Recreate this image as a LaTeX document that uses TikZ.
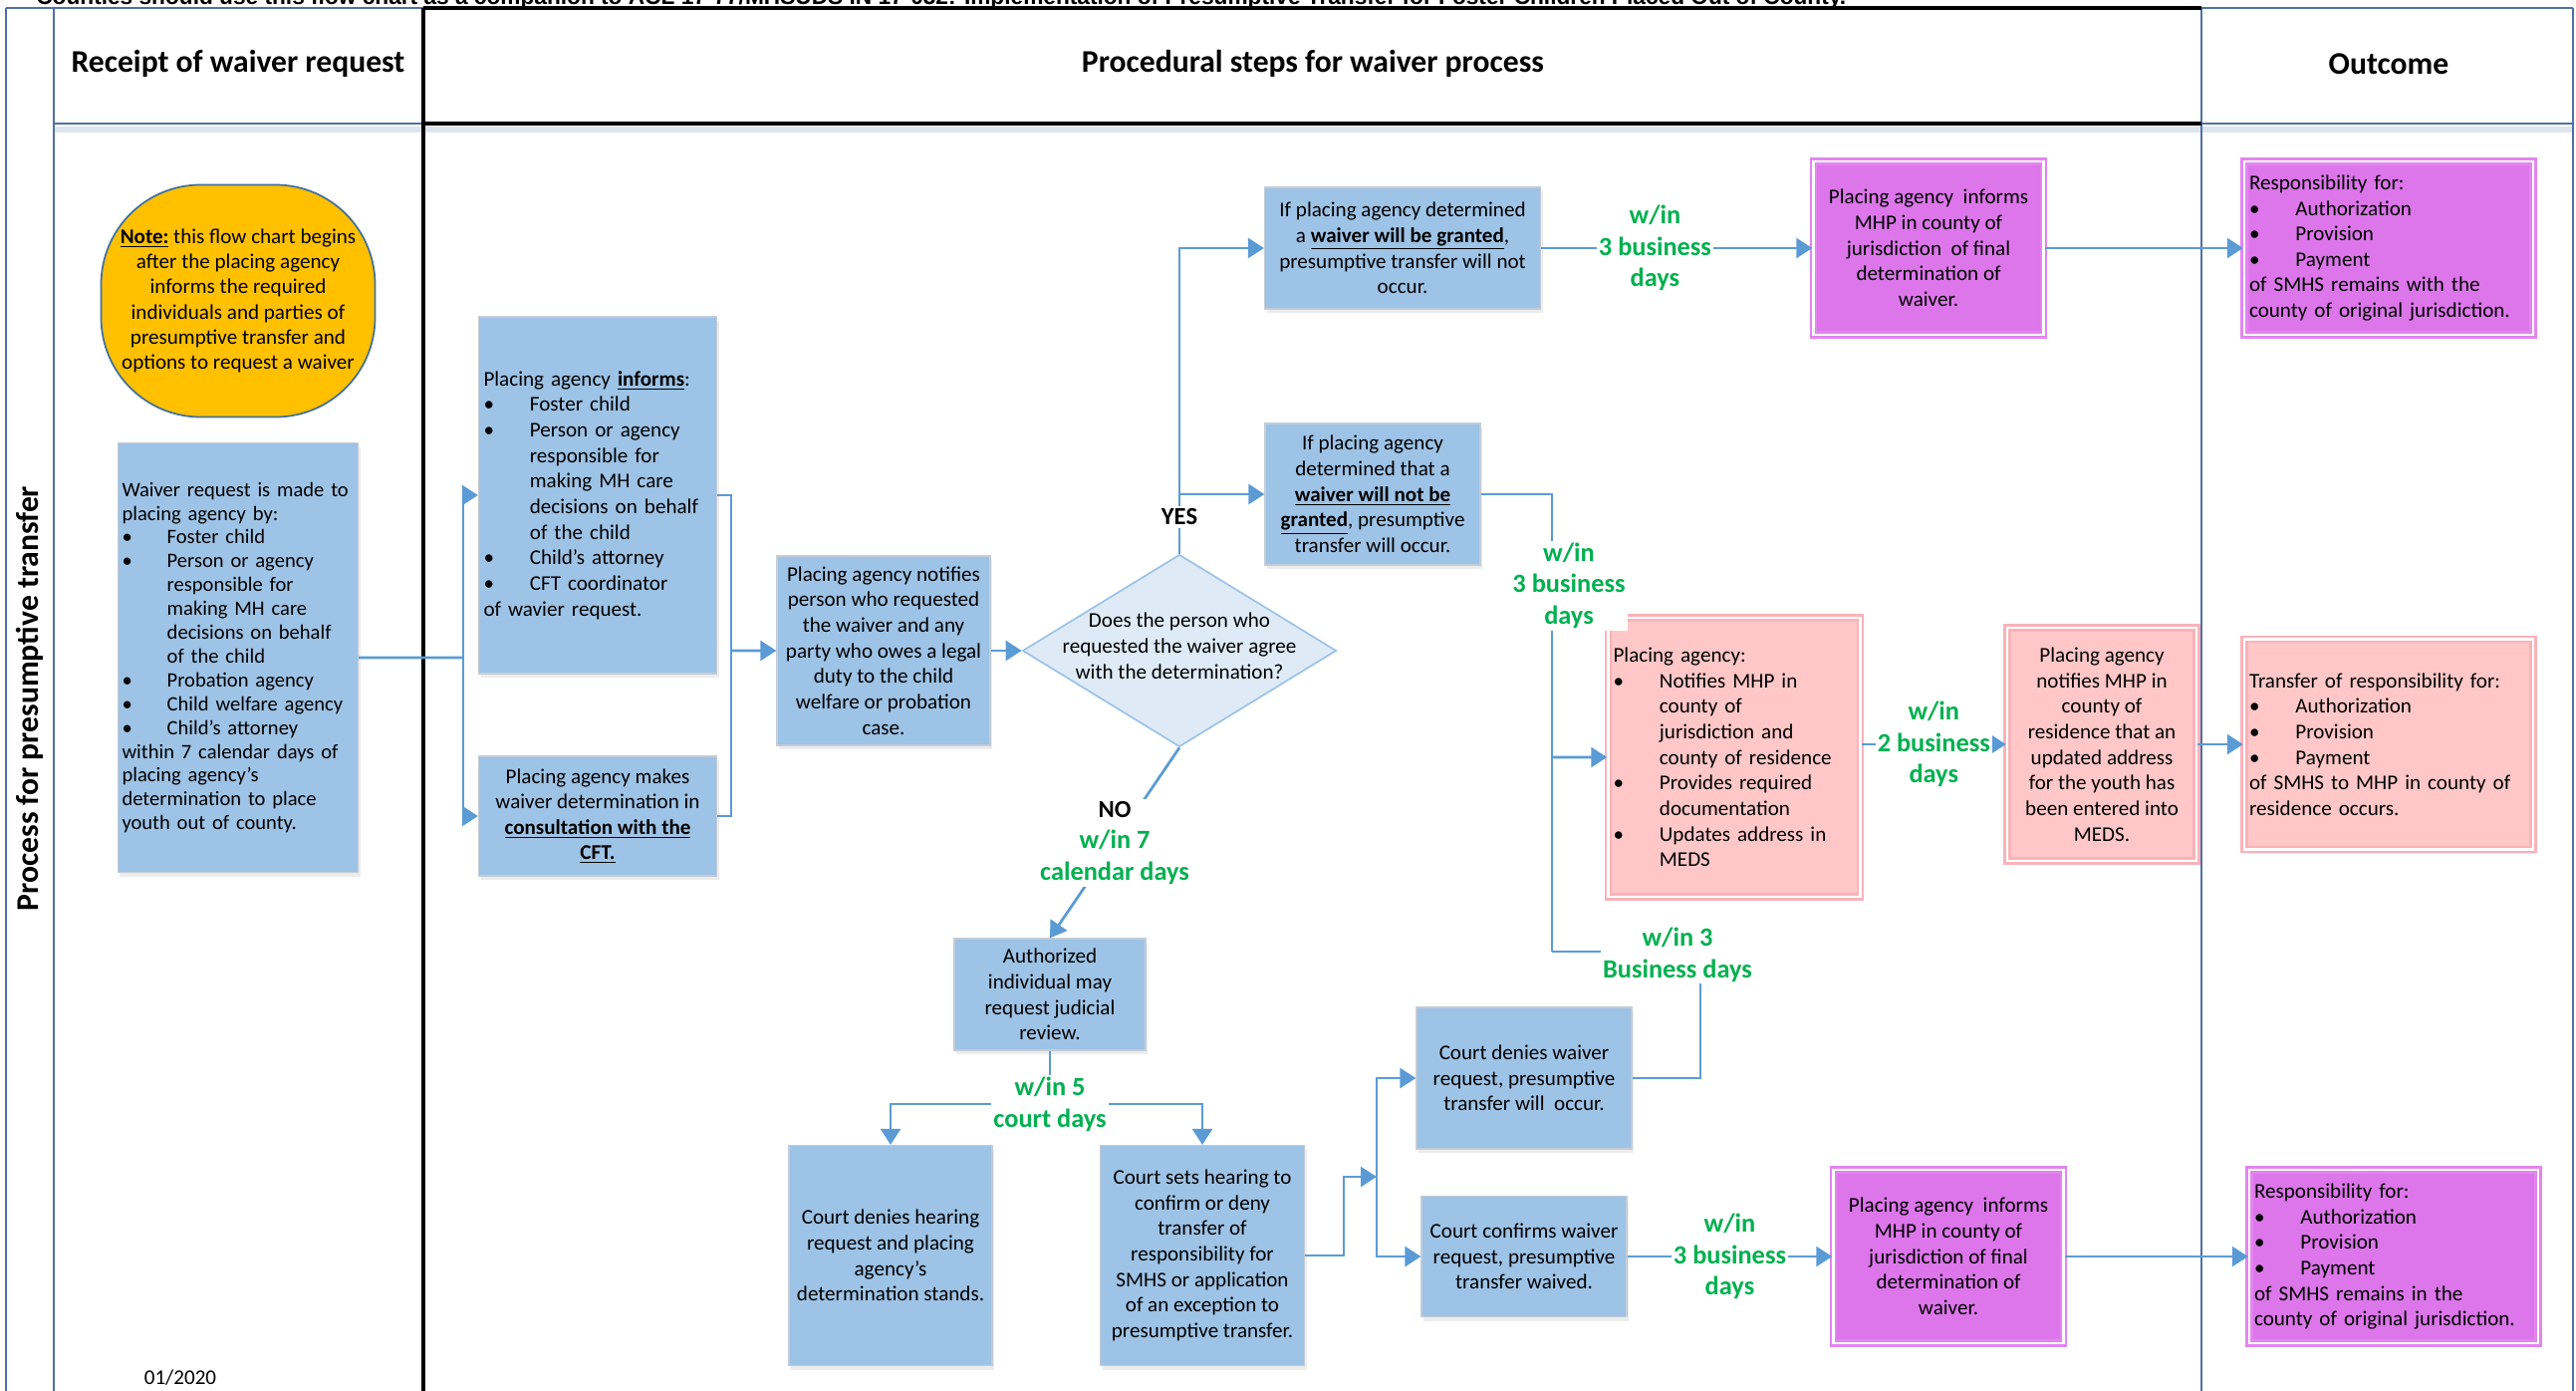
\documentclass[tikz,border=0pt]{standalone}
\usepackage{fontspec}
\setmainfont{Carlito}
\newfontfamily\arialfont{Liberation Sans}
\usetikzlibrary{positioning, arrows.meta, shapes.geometric, shadows}

\definecolor{boxblue}{HTML}{9DC3E6}
\definecolor{boxedge}{HTML}{C4CCD6}
\definecolor{lineblue}{HTML}{5B9BD5}
\definecolor{notefill}{HTML}{FFC000}
\definecolor{noteedge}{HTML}{41719C}
\definecolor{diafill}{HTML}{DEEBF7}
\definecolor{diaedge}{HTML}{9DC3E6}
\definecolor{magfill}{HTML}{DC76EA}
\definecolor{magedge}{HTML}{E385EF}
\definecolor{pinkfill}{HTML}{FFC7C7}
\definecolor{pinkedge}{HTML}{F9B3B9}
\definecolor{wgreen}{HTML}{00B050}
\definecolor{frameblue}{HTML}{4F71A3}

\newcommand{\bul}{\makebox[2.2em][l]{\textbullet}}
\newcommand{\ind}{\hspace*{2.2em}}

\begin{document}
\begin{tikzpicture}
    [
        x=0.2mm, y=-0.2mm, on grid,
        blue_box/.style={rectangle, draw=boxedge, fill=boxblue, line width=0.25mm, inner xsep=1mm, inner ysep=0.8mm, align=center, font=\fontsize{12}{14.6}\selectfont, drop shadow={shadow xshift=0.4mm, shadow yshift=-0.8mm, opacity=0.15}},
        left_box/.style={blue_box, align=left},
        mag_box/.style={rectangle, draw=magedge, double=white, double distance=0.5mm, line width=0.5mm, fill=magfill, inner xsep=1mm, align=center, font=\fontsize{12}{14.6}\selectfont, drop shadow={shadow xshift=0.4mm, shadow yshift=-0.8mm, opacity=0.15}},
        mag_left/.style={mag_box, align=left},
        pink_box/.style={mag_box, draw=pinkedge, fill=pinkfill},
        pink_left/.style={pink_box, align=left},
        note_node/.style={rectangle, rounded corners=20mm, draw=noteedge, fill=notefill, line width=0.35mm, minimum width=55mm, minimum height=46.6mm, align=center, font=\fontsize{12}{14.4}\selectfont},
        dec_node/.style={diamond, draw=diaedge, fill=diafill, line width=0.35mm, inner sep=0pt, minimum width=63mm, minimum height=38.6mm, font=\fontsize{12}{14.6}\selectfont},
        green_lbl/.style={font=\fontsize{15}{18}\selectfont\bfseries, text=wgreen, fill=white, inner sep=0.4mm, align=center},
        yes_lbl/.style={font=\fontsize{14}{17}\selectfont\bfseries, fill=white, inner sep=0.5mm},
        head_lbl/.style={font=\fontsize{18}{22}\selectfont\bfseries},
        line_conn/.style={draw=lineblue, line width=0.55mm},
        arrow_conn/.style={line_conn, -{Triangle[length=3.2mm, width=4mm]}},
        frame_blue/.style={draw=frameblue, line width=0.5mm},
        frame_black/.style={draw=black, line width=0.8mm},
    ]
    \useasboundingbox (0,0) rectangle (2586,1396);

    \node[font=\arialfont\fontsize{12.9}{15}\selectfont\bfseries, anchor=base west, inner sep=0pt] (topnote) at (36,4) {Counties should use this flow chart as a companion to ACL 17-77/MHSUDS IN 17-032: Implementation of Presumptive Transfer for Foster Children Placed Out of County.};

    % swimlane frame
    \draw[draw=frameblue!18, line width=1.2mm] (54,130) -- (2583,130);
    \draw[frame_blue] (6,8) -- (6,1396);
    \draw[frame_blue] (54,8) -- (54,1396);
    \draw[frame_blue] (2210,8) -- (2210,1396);
    \draw[frame_blue] (2583,8) -- (2583,1396);
    \draw[frame_blue] (6,8) -- (425,8);
    \draw[frame_blue] (2210,8) -- (2583,8);
    \draw[frame_blue] (54,124) -- (425,124);
    \draw[frame_blue] (2210,124) -- (2583,124);
    \draw[frame_black] (425,8) -- (2210,8);
    \draw[frame_black] (425,124) -- (2210,124);
    \draw[frame_black] (425,8) -- (425,1396);

    \node[head_lbl] (h_receipt) at (239,64) {Receipt of waiver request};
    \node[head_lbl] (h_steps) at (1318,64) {Procedural steps for waiver process};
    \node[head_lbl] (h_outcome) at (2398,64) {Outcome};
    \node[head_lbl, rotate=90] (h_side) at (30,701) {Process for presumptive transfer};
    \node[font=\fontsize{12}{14}\selectfont] (date) at (181,1383) {01/2020};

    \node[note_node] (note) at (239,302) {\underline{\textbf{Note:}} this flow chart begins\\after the placing agency\\informs the required\\individuals and parties of\\presumptive transfer and\\options to request a waiver};
    \node[left_box, inner xsep=0.8mm, text width=46.6mm, minimum height=86.2mm, font=\fontsize{11.7}{13.6}\selectfont] (req) [below=71.6mm of note] {Waiver request is made to\\placing agency by:\\\bul Foster child\\\bul Person or agency\\\ind responsible for\\\ind making MH care\\\ind decisions on behalf\\\ind of the child\\\bul Probation agency\\\bul Child welfare agency\\\bul Child’s attorney\\within 7 calendar days of\\placing agency’s\\determination to place\\youth out of county.};

    \node[left_box, text width=45.8mm, minimum height=71.6mm] (inf) [above right=32.6mm and 72.2mm of req] {Placing agency \underline{\textbf{informs}}:\\\bul Foster child\\\bul Person or agency\\\ind responsible for\\\ind making MH care\\\ind decisions on behalf\\\ind of the child\\\bul Child’s attorney\\\bul CFT coordinator\\of wavier request.};
    \node[blue_box, minimum width=47.8mm, minimum height=24mm] (mak) [below=64.4mm of inf] {Placing agency makes\\waiver determination in\\\underline{\textbf{consultation with the}}\\\underline{\textbf{CFT.}}};
    \node[blue_box, minimum width=42.8mm, minimum height=38mm] (ntf) [below right=31.2mm and 57.4mm of inf] {Placing agency notifies\\person who requested\\the waiver and any\\party who owes a legal\\duty to the child\\welfare or probation\\case.};
    \node[dec_node] (dec) [right=59.4mm of ntf] {\raisebox{-1mm}{\smash{\makebox[0pt]{\begin{tabular}{@{}c@{}}Does the person who\\requested the waiver agree\\with the determination?\end{tabular}}}}};

    \node[blue_box, minimum width=43.2mm, minimum height=28.4mm] (ngr) [above right=31.4mm and 38.8mm of dec] {If placing agency\\determined that a\\\underline{\textbf{waiver will not be}}\\\underline{\textbf{granted}}, presumptive\\transfer will occur.};
    \node[blue_box, minimum width=55.4mm, minimum height=24.4mm] (grt) [above right=49.4mm and 6mm of ngr] {If placing agency determined\\a \underline{\textbf{waiver will be granted}},\\presumptive transfer will not\\occur.};
    \node[mag_box, minimum width=46.2mm, minimum height=34.8mm] (pmA) [right=105.6mm of grt] {Placing agency\ \ informs\\MHP in county of\\jurisdiction\ \ of final\\determination of\\waiver.};
    \node[mag_left, text width=56mm, minimum height=34.8mm] (outA) [right=92.4mm of pmA] {Responsibility for:\\\bul Authorization\\\bul Provision\\\bul Payment\\of SMHS remains with the\\county of original jurisdiction.};

    \node[pink_left, text width=48.6mm, minimum height=56mm] (pkA) [below right=52.8mm and 72.6mm of ngr] {Placing agency:\\\bul Notifies MHP in\\\ind county of\\\ind jurisdiction and\\\ind county of residence\\\bul Provides required\\\ind documentation\\\bul Updates address in\\\ind MEDS};
    \node[pink_box, minimum width=38mm, minimum height=46.8mm] (pkB) [above right=2.6mm and 73.8mm of pkA] {Placing agency\\notifies MHP in\\county of\\residence that an\\updated address\\for the youth has\\been entered into\\MEDS.};
    \node[pink_left, text width=56mm, minimum height=42.2mm] (outB) [right=57.6mm of pkB] {Transfer of responsibility for:\\\bul Authorization\\\bul Provision\\\bul Payment\\of SMHS to MHP in county of\\residence occurs.};

    \node[blue_box, minimum width=38.4mm, minimum height=22.4mm] (aut) [below left=69mm and 26mm of dec] {Authorized\\individual may\\request judicial\\review.};
    \node[green_lbl] (court5) [below=22mm of aut] {w/in 5\\court days};
    \node[blue_box, minimum width=40.8mm, minimum height=44.2mm] (cdh) [below left=52.4mm and 32mm of aut] {Court denies hearing\\request and placing\\agency’s\\determination stands.};
    \node[blue_box, minimum width=41mm, minimum height=44.2mm] (csh) [right=62.6mm of cdh] {Court sets hearing to\\confirm or deny\\transfer of\\responsibility for\\SMHS or application\\of an exception to\\presumptive transfer.};
    \node[blue_box, minimum width=43.2mm, minimum height=28.4mm] (cdw) [above right=35.6mm and 64.6mm of csh] {Court denies waiver\\request, presumptive\\transfer will\ \ occur.};
    \node[blue_box, minimum width=41.2mm, minimum height=24.2mm] (ccw) [below=35.8mm of cdw] {Court confirms waiver\\request, presumptive\\transfer waived.};
    \node[mag_box, minimum width=46.2mm, minimum height=34.8mm] (pmB) [right=85.2mm of ccw] {Placing agency\ \ informs\\MHP in county of\\jurisdiction of final\\determination of\\waiver.};
    \node[mag_left, text width=56mm, minimum height=34.8mm] (outC) [right=89.4mm of pmB] {Responsibility for:\\\bul Authorization\\\bul Provision\\\bul Payment\\of SMHS remains in the\\county of original jurisdiction.};

    \node[yes_lbl] (yes) [above=26.8mm of dec] {YES};

    \coordinate (bus1) at (465,660);
    \coordinate (bus2) at (734,653);
    \coordinate (j1) at (1558,760);
    \coordinate (j2) at (1558,955);
    \coordinate (j3) at (1707,955);
    \coordinate (bus3) at (1382,1181);
    \coordinate (k1) at (1349,1181);

    \draw[line_conn] (req.east) -- (bus1);
    \draw[arrow_conn] (bus1) |- (inf.west);
    \draw[arrow_conn] (bus1) |- (mak.west);
    \draw[line_conn] (inf.east) -| (bus2);
    \draw[line_conn] (mak.east) -| (bus2);
    \draw[arrow_conn] (bus2) -- (ntf.west);
    \draw[arrow_conn] (ntf.east) -- (dec.west);

    \draw[line_conn] (dec.north) -- (yes.south);
    \draw[arrow_conn] (yes.north) |- (grt.west);
    \draw[arrow_conn] (yes.north) |- (ngr.west);
    \draw[arrow_conn] (grt.east) -- node[green_lbl, pos=0.42] {w/in\\3 business\\days} (pmA.west);
    \draw[arrow_conn] (pmA.east) -- (outA.west);

    \draw[line_conn] (ngr.east) -| node[green_lbl, pos=0.6, xshift=3.4mm] {w/in\\3 business\\days} (j2);
    \draw[arrow_conn] (j1) -- (pkA.west);
    \draw[arrow_conn] (pkA.east |- pkB.west) -- node[green_lbl] {w/in\\2 business\\days} (pkB.west);
    \draw[arrow_conn] (pkB.east) -- (outB.west);

    \draw[arrow_conn] (dec.south) -- node[green_lbl] {{\color{black}\fontsize{14}{17}\selectfont NO}\\w/in 7\\calendar days} (aut.north);
    \draw[line_conn] (aut.south) -- (court5.north);
    \draw[arrow_conn] (court5.west) -| (cdh.north);
    \draw[arrow_conn] (court5.east) -| (csh.north);

    \draw[arrow_conn] (csh.east) -| (k1) -- (bus3);
    \draw[arrow_conn] (bus3) |- (cdw.west);
    \draw[arrow_conn] (bus3) |- (ccw.west);
    \draw[line_conn] (cdw.east) -| (j3) node[green_lbl, xshift=-4.6mm, yshift=-0.6mm] {w/in 3\\Business days} -- (j2);

    \draw[arrow_conn] (ccw.east) -- node[green_lbl] {w/in\\3 business\\days} (pmB.west);
    \draw[arrow_conn] (pmB.east) -- (outC.west);
\end{tikzpicture}
\end{document}
